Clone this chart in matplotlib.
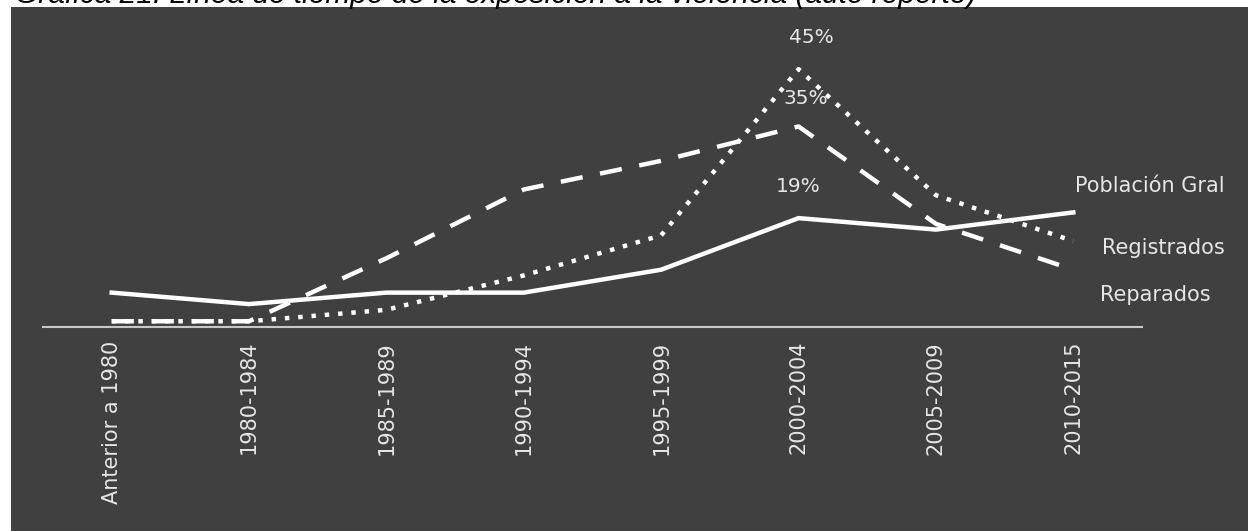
import matplotlib
matplotlib.use("Agg")
import matplotlib.pyplot as plt
from matplotlib.patches import Rectangle

plt.rcParams['font.family'] = ['DejaVu Sans']

categories = ["Anterior a 1980", "1980-1984", "1985-1989", "1990-1994",
              "1995-1999", "2000-2004", "2005-2009", "2010-2015"]
poblacion_gral = [6, 4, 6, 6, 10, 19, 17, 20]
registrados = [1, 1, 3, 9, 16, 45, 23, 15]
reparados = [1, 1, 12, 24, 29, 35, 18, 10]
series_names = ["Población Gral", "Registrados", "Reparados"]
title = "Gráfica 21. Línea de tiempo de la exposición a la violencia (auto reporte)"

W, H = 1248, 531
fig = plt.figure(figsize=(W / 100, H / 100), dpi=100, facecolor="white")

# dark panel behind the chart
fig.patches.append(Rectangle((11 / W, 0), 1 - 11 / W, (H - 7) / H,
                             transform=fig.transFigure, facecolor="#404040",
                             edgecolor="none", zorder=-5))

# title sitting above the panel
fig.text(15 / W, (H - 3) / H, title, fontsize=21.5, style="italic",
         family="Liberation Sans", color="black", va="baseline", ha="left",
         zorder=-4)

ax_left, ax_right = 43 / W, 1142 / W
ax_bottom = (H - 327) / H
ymax = 50
ax_height = ymax * 5.73 / H
ax = fig.add_axes([ax_left, ax_bottom, ax_right - ax_left, ax_height])
ax.set_facecolor("none")
ax.set_zorder(2)

x = list(range(len(categories)))
ax.plot(x, poblacion_gral, color="white", lw=3.2, solid_joinstyle="miter",
        clip_on=False, zorder=4)
ax.plot(x, registrados, color="white", lw=3.2, linestyle=(0, (1, 2)),
        clip_on=False, zorder=3)
ax.plot(x, reparados, color="white", lw=3.2, linestyle=(0, (5, 4)),
        clip_on=False, zorder=3)

ax.set_xlim(-0.5, len(categories) - 0.5)
ax.set_ylim(0, ymax)
for s in ["top", "right", "left"]:
    ax.spines[s].set_visible(False)
ax.spines["bottom"].set_color("#c8c8c8")
ax.spines["bottom"].set_linewidth(1.5)
ax.set_yticks([])
ax.set_xticks(x)
ax.set_xticklabels(categories, rotation=90, fontsize=15, color="#e6e6e6")
ax.tick_params(axis="x", length=0, pad=10)

# value labels at the 2000-2004 peak
peak = categories.index("2000-2004")
for vals, dx, dy in [(registrados, 9, 16), (reparados, 5, 13), (poblacion_gral, 0, 16)]:
    ax.annotate(f"{vals[peak]}%", (peak, vals[peak]), xytext=(dx, dy),
                textcoords="offset points", ha="center", va="bottom",
                fontsize=14.5, color="#e6e6e6")

# series names at the right end
for name, xp, yp in zip(series_names, [1075, 1102, 1100], [186, 248, 295]):
    fig.text(xp / W, (H - yp) / H, name, fontsize=15, color="#e6e6e6",
             ha="left", va="center", zorder=3)

fig.savefig("out.png", dpi=100, facecolor="white")
